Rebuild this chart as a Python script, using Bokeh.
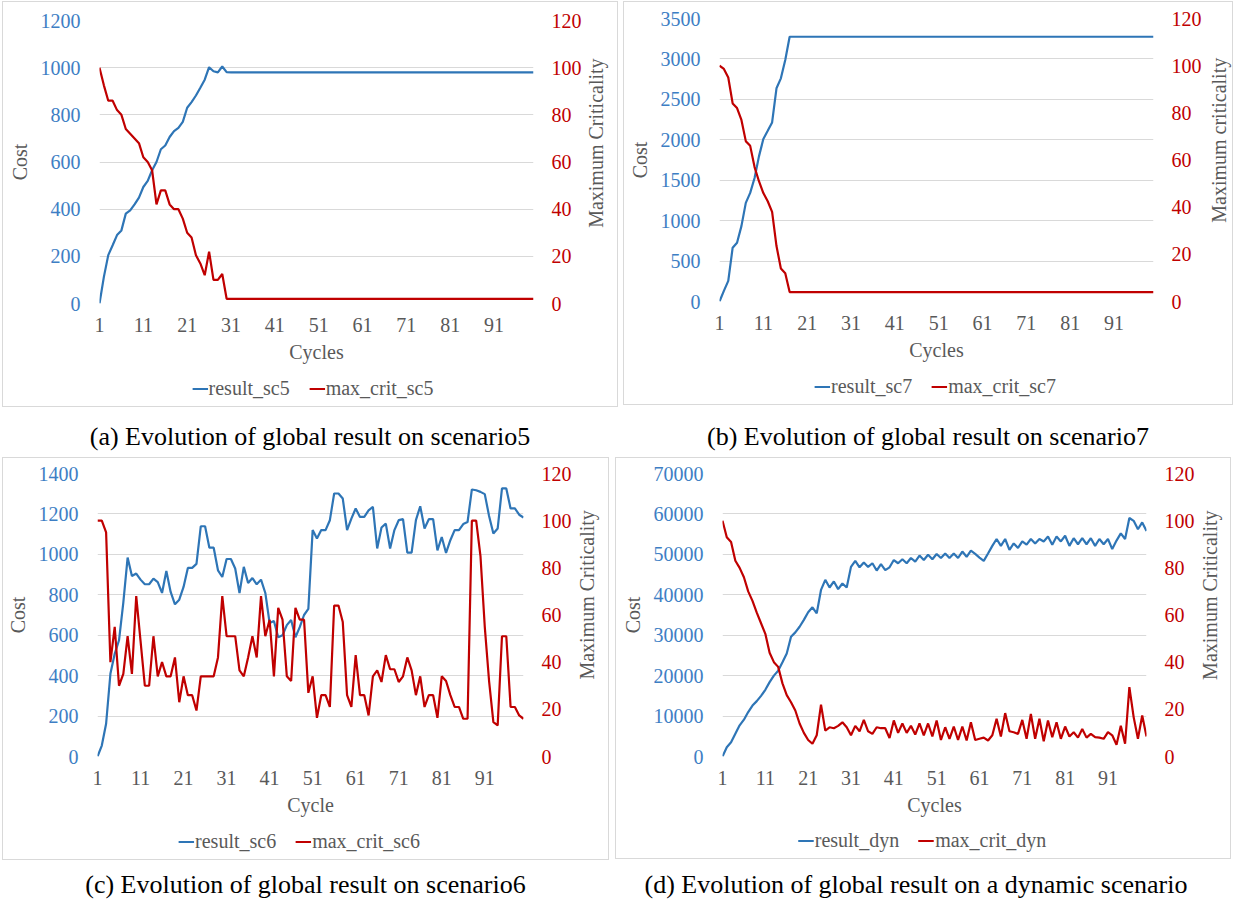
import math
from bokeh.plotting import figure
from bokeh.models import Range1d, LinearAxis, FixedTicker, Legend, LegendItem, Div, Label
from bokeh.layouts import row, column
from bokeh.embed import file_html
from bokeh.resources import INLINE

# ---------------- data ----------------
cycles = list(range(1, 101))
cycle_ticks = [1, 11, 21, 31, 41, 51, 61, 71, 81, 91]
crit_ticks = [0, 20, 40, 60, 80, 100, 120]

# (a) scenario5
cost_ticks_sc5 = [0, 200, 400, 600, 800, 1000, 1200]
result_sc5 = [0, 113, 205, 247, 290, 310, 381, 395, 420, 449,
              494, 520, 565, 600, 654, 670, 706, 731, 745, 770,
              830, 854, 882, 915, 949, 1002, 985, 980, 1005, 981] + [980] * 70
max_crit_sc5 = [100, 92.5, 86, 86, 82, 80, 74, 72, 70, 68,
                62, 60, 56.5, 42, 48, 48, 42, 40, 40, 36,
                30, 28, 20.5, 17, 12, 22, 10, 10, 12.5, 2] + [2] * 70

# (b) scenario7
cost_ticks_sc7 = [0, 500, 1000, 1500, 2000, 2500, 3000, 3500]
result_sc7 = [0, 131, 255, 665, 727, 932, 1220, 1343, 1528, 1795,
              2009, 2111, 2214, 2637, 2760, 2986, 3274] + [3274] * 83
max_crit_sc7 = [100, 98.6, 95, 84, 82, 77, 68, 66, 57, 51,
                46, 42.5, 38, 23.5, 14, 12, 4] + [4] * 83

# (c) scenario6
cost_ticks_sc6 = [0, 200, 400, 600, 800, 1000, 1200, 1400]
result_sc6 = [0, 54, 162, 409, 508, 575, 761, 984, 893, 905,
              875, 852, 852, 880, 863, 809, 918, 814, 753, 776,
              839, 933, 933, 953, 1139, 1139, 1033, 1033, 921, 888,
              977, 977, 930, 809, 938, 858, 883, 852, 875, 809,
              660, 670, 590, 600, 650, 675, 590, 640, 700, 730,
              1120, 1078, 1120, 1120, 1169, 1301, 1301, 1276, 1120, 1177,
              1227, 1185, 1185, 1218, 1235, 1029, 1133, 1152, 1029, 1120,
              1169, 1174, 1009, 1009, 1169, 1238, 1128, 1174, 1174, 1020,
              1086, 1007, 1070, 1120, 1120, 1150, 1160, 1321, 1317, 1309,
              1298, 1190, 1103, 1128, 1326, 1326, 1227, 1227, 1196, 1182]
max_crit_sc6 = [100, 100, 95, 40, 55, 30, 35, 51, 35, 68,
                49, 30, 30, 51, 34, 40, 34, 34, 42, 23,
                34, 26, 26, 19.5, 34, 34, 34, 34, 42, 68,
                51, 51, 51, 36.5, 34, 42, 51, 42, 68, 51,
                58, 34, 63, 58, 34, 32, 63, 58, 58, 27,
                34, 16.4, 26, 26, 21, 64, 64, 57, 26, 21,
                43, 26, 26, 17.4, 34, 36.5, 31.6, 43, 37, 37,
                31.6, 34, 42, 36.5, 26, 34, 21, 26, 26, 16.4,
                34, 32, 26, 21, 21, 16, 16, 100, 100, 85,
                55, 32, 14.6, 13.2, 51, 51, 21, 21, 17.4, 16]

# (d) dynamic scenario
cost_ticks_dyn = [0, 10000, 20000, 30000, 40000, 50000, 60000, 70000]
result_dyn = [0, 2300, 3500, 5600, 7700, 9100, 11000, 12600, 13700, 15000,
              16500, 18400, 20000, 21200, 23300, 25500, 29600, 30700, 32100, 33800,
              35700, 36900, 35400, 41200, 43700, 41800, 43300, 41400, 42800, 41800,
              46900, 48400, 46800, 48000, 46900, 47800, 46000, 47600, 46100, 46800,
              48600, 47800, 48800, 47800, 49100, 48200, 49700, 48600, 49900, 48800,
              50100, 49100, 50200, 49100, 50200, 49100, 50700, 49400, 50900, 50100,
              49200, 48400, 50200, 52100, 53800, 52100, 53800, 51100, 52700, 51600,
              53200, 52400, 53800, 52700, 53800, 53200, 54400, 52400, 54400, 53200,
              54600, 52100, 54000, 52500, 54000, 52500, 54000, 52100, 53800, 52500,
              53800, 51300, 53400, 55200, 53800, 59000, 58300, 56200, 57900, 55800]
max_crit_dyn = [100, 93, 91, 83, 80, 76, 70, 66, 61, 56.5,
                52, 44, 40, 38, 31, 26, 23, 19.5, 14, 10,
                7, 5.4, 9, 22, 11, 12.4, 12, 13, 14.5, 12.4,
                9, 13, 10.7, 15.5, 10.7, 9.6, 12.4, 12, 12, 7.8,
                15.3, 10, 14, 10, 13, 9.3, 14, 9, 14, 8.5,
                15.3, 7, 12.4, 7.5, 12.7, 7, 12.7, 6.8, 14.5, 7,
                7.5, 8, 6.8, 9, 16, 8.5, 18.4, 10.7, 10.3, 9.6,
                15.5, 7.5, 18, 7.5, 16, 6.5, 15.3, 8.2, 14.5, 7.5,
                12.7, 8.5, 10.3, 8, 11.7, 8, 9.6, 8.2, 8, 7.5,
                10.3, 9, 5, 13, 5.4, 29.4, 16.7, 7.5, 17.4, 8.5]

captions = ["(a) Evolution of global result on scenario5",
            "(b) Evolution of global result on scenario7",
            "(c) Evolution of global result on scenario6",
            "(d) Evolution of global result on a dynamic scenario"]

# ---------------- style ----------------
FONT = "Liberation Serif"
GREY = "#595959"
BLUE = "#2e75b6"
BLUE_TXT = "#3d7ec4"
RED = "#c00000"
GRID = "#d9d9d9"
LEG_H = 36
FRAME_H = 283


def style_axis(ax, color, label, std, lstd):
    ax.axis_line_color = None
    ax.major_tick_line_color = None
    ax.minor_tick_line_color = None
    ax.major_tick_in = 0
    ax.major_tick_out = 0
    ax.minor_tick_in = 0
    ax.minor_tick_out = 0
    ax.major_label_text_font = FONT
    ax.major_label_text_font_size = "20px"
    ax.major_label_text_color = color
    ax.major_label_standoff = std
    ax.axis_label = label
    ax.axis_label_text_font = FONT
    ax.axis_label_text_font_size = "20px"
    ax.axis_label_text_font_style = "normal"
    ax.axis_label_text_color = GREY
    ax.axis_label_standoff = lstd


def blank_fig(w, h, bl=0, br=0):
    f = figure(width=w, height=h, x_range=Range1d(0, w), y_range=Range1d(0, h),
               output_backend="svg", toolbar_location=None,
               x_axis_type=None, y_axis_type=None,
               min_border_left=bl, min_border_right=br,
               min_border_top=0, min_border_bottom=0,
               background_fill_color="white", border_fill_color="white",
               outline_line_color=None)
    f.xgrid.visible = False
    f.ygrid.visible = False
    return f


def make_panel(w, h, bl, fw, bt, main_w, label_x, cost_ticks, cost, crit,
               xlabel, rlabel, names, leg_left):
    mh = h - LEG_H
    p = figure(width=main_w, height=mh, x_range=Range1d(1, 100),
               y_range=Range1d(cost_ticks[0], cost_ticks[-1]),
               output_backend="svg", toolbar_location=None,
               min_border_left=bl, min_border_right=main_w - bl - fw,
               min_border_top=bt, min_border_bottom=mh - bt - FRAME_H,
               background_fill_color="white", border_fill_color="white",
               outline_line_color=None)
    p.extra_y_ranges = {"crit": Range1d(crit_ticks[0], crit_ticks[-1])}

    xt = FixedTicker(ticks=cycle_ticks)
    lt = FixedTicker(ticks=cost_ticks)
    rt = FixedTicker(ticks=crit_ticks)

    p.xaxis[0].ticker = xt
    style_axis(p.xaxis[0], GREY, xlabel, 14, 6)
    p.yaxis[0].ticker = lt
    style_axis(p.yaxis[0], BLUE_TXT, "Cost", 19, 7)

    rax = LinearAxis(y_range_name="crit", ticker=rt)
    style_axis(rax, RED, None, 18, 0)
    p.add_layout(rax, "right")

    p.xgrid.visible = False
    p.ygrid.ticker = lt
    p.ygrid.grid_line_color = GRID
    p.ygrid.grid_line_width = 1

    p.line(cycles, cost, line_color=BLUE, line_width=2.2)
    p.line(cycles, crit, line_color=RED, line_width=2.2, y_range_name="crit")

    # right axis title strip (text reads bottom-to-top)
    rw = w - main_w
    rf = blank_fig(rw, mh)
    rf.add_layout(Label(x=label_x, y=mh - bt - FRAME_H / 2, text=rlabel,
                        angle=math.pi / 2, text_align="center",
                        text_baseline="middle", text_font=FONT,
                        text_font_size="20px", text_color=GREY))

    # legend strip
    lf = blank_fig(w, LEG_H, max(leg_left, 0), max(-leg_left, 0))
    lf.x_range = Range1d(-2, -1)
    r1 = lf.line(cycles, cost, line_color=BLUE, line_width=2.2)
    r2 = lf.line(cycles, crit, line_color=RED, line_width=2.2)
    legend = Legend(items=[LegendItem(label=names[0], renderers=[r1]),
                           LegendItem(label=names[1], renderers=[r2])],
                    orientation="horizontal", location="center",
                    label_text_font=FONT, label_text_font_size="20px",
                    label_text_color=GREY, glyph_width=16, glyph_height=20,
                    label_standoff=1, spacing=19, padding=0, margin=0,
                    border_line_color=None, background_fill_alpha=0)
    lf.add_layout(legend)

    return column(row(p, rf), lf, styles={"outline": "1px solid #d9d9d9"})


def caption(text, w, ml):
    return Div(text=text, width=w, height=30, margin=(0, 0, 0, ml),
               styles={"font-family": FONT, "font-size": "26px",
                       "text-align": "center", "line-height": "30px",
                       "color": "black", "white-space": "nowrap"})


pa = make_panel(614, 404, 96, 435, 18, 581, 11.5, cost_ticks_sc5, result_sc5, max_crit_sc5,
                "Cycles", "Maximum Criticality", ["result_sc5", "max_crit_sc5"], 5)
pb = make_panel(608, 402, 95, 435, 16, 580, 14.5, cost_ticks_sc7, result_sc7, max_crit_sc7,
                "Cycles", "Maximum criticality", ["result_sc7", "max_crit_sc7"], 14)
pc = make_panel(605, 401, 86, 435, 15, 571, 12.5, cost_ticks_sc6, result_sc6, max_crit_sc6,
                "Cycle", "Maximum Criticality", ["result_sc6", "max_crit_sc6"], -13)
pd = make_panel(614, 400, 106, 425, 15, 581, 12.5, cost_ticks_dyn, result_dyn, max_crit_dyn,
                "Cycles", "Maximum Criticality", ["result_dyn", "max_crit_dyn"], -2)

pa.margin = (0, 0, 0, 0)
pb.margin = (0, 0, 0, 7)
pc.margin = (0, 0, 0, 0)
pd.margin = (0, 0, 0, 8)

row1 = row(pa, pb)
row2 = row(caption(captions[0], 614, 0), caption(captions[1], 608, 7), margin=(16, 0, 0, 0))
row3 = row(pc, pd, margin=(6, 0, 0, 0))
row4 = row(caption(captions[2], 605, 0), caption(captions[3], 600, 8), margin=(11, 0, 0, 0))

layout = column(row1, row2, row3, row4, margin=(2, 0, 0, 3))

open("out.html", "w").write(file_html(layout, INLINE))
